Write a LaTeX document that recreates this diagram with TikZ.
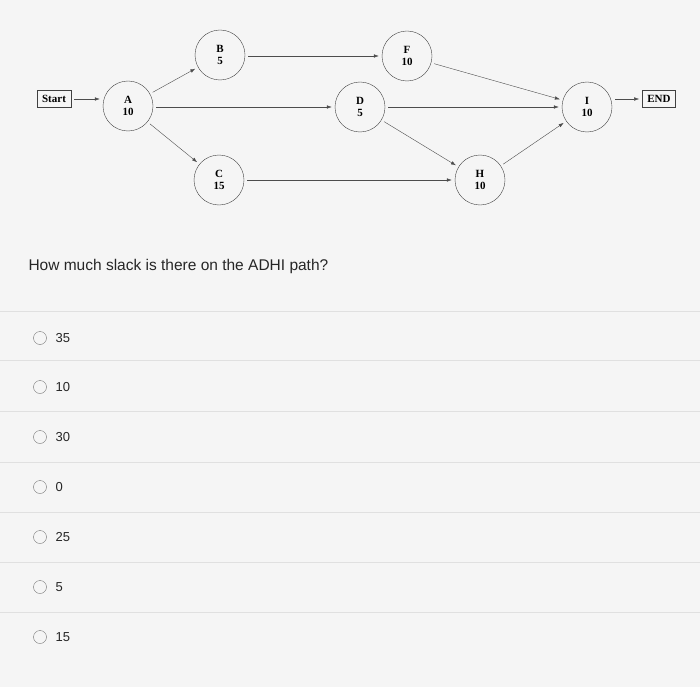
\documentclass[tikz,border=0pt]{standalone}
\usepackage{fontspec}
\setsansfont{Liberation Sans}
\newfontfamily\tnr{Liberation Serif}
\usetikzlibrary{arrows.meta,shapes.geometric}
\begin{document}
\begin{tikzpicture}[x=1pt,y=-1pt,
 act/.style={draw=black!75,ellipse,minimum width=50pt,minimum height=50pt,align=center,font=\tnr\bfseries\fontsize{11}{12}\selectfont,inner sep=0pt},
 term/.style={draw=black!75,font=\tnr\bfseries\fontsize{11}{12}\selectfont,inner sep=5pt},
 arr/.style={draw=black!70,-{Latex[length=5pt,width=3.5pt]},shorten >=3pt,shorten <=3pt},
 radio/.style={draw=black!55,circle,minimum size=13pt,inner sep=0pt},
 opt/.style={font=\sffamily\fontsize{13}{14}\selectfont,anchor=west,text=black!85},
 sep/.style={draw=black!12,line width=0.8pt}]
\useasboundingbox[fill=white!96!black] (0,0) rectangle (700,687);
\node[term] (start) at (54,99) {Start};
\node[act] (A) at (128,106) {A\\10};
\node[act] (B) at (220,55) {B\\5};
\node[act] (F) at (407,56) {F\\10};
\node[act] (D) at (360,107) {D\\5};
\node[act] (C) at (219,180) {C\\15};
\node[act] (H) at (480,180) {H\\10};
\node[act] (I) at (587,107) {I\\10};
\node[term] (end) at (659,99) {END};
\draw[arr] (start) -- (A.west|-start);
\draw[arr] (A) -- (B);
\draw[arr] (A) -- (C);
\draw[arr] (A.east|-D) -- (D.west);
\draw[arr] (B.east|-F) -- (F.west);
\draw[arr] (F) -- (I);
\draw[arr] (D) -- (I);
\draw[arr] (D) -- (H);
\draw[arr] (C) -- (H);
\draw[arr] (H) -- (I);
\draw[arr] (I.east|-end) -- (end);
\node[font=\sffamily\fontsize{15.5}{17}\selectfont,anchor=west,text=black!85] (q) at (25,266) {How much slack is there on the ADHI path?};
\foreach \y in {311,360,411,462,512,562,612}{\draw[sep] (0,\y) -- (700,\y);}
\foreach \n/\y/\t in {a/338/35,b/387/10,c/437/30,d/487/0,e/537/25,f/587/5,g/637/15}{
 \node[radio] (r\n) at (40,\y) {};
 \node[opt] (t\n) at (52,\y) {\t};}
\end{tikzpicture}
\end{document}
